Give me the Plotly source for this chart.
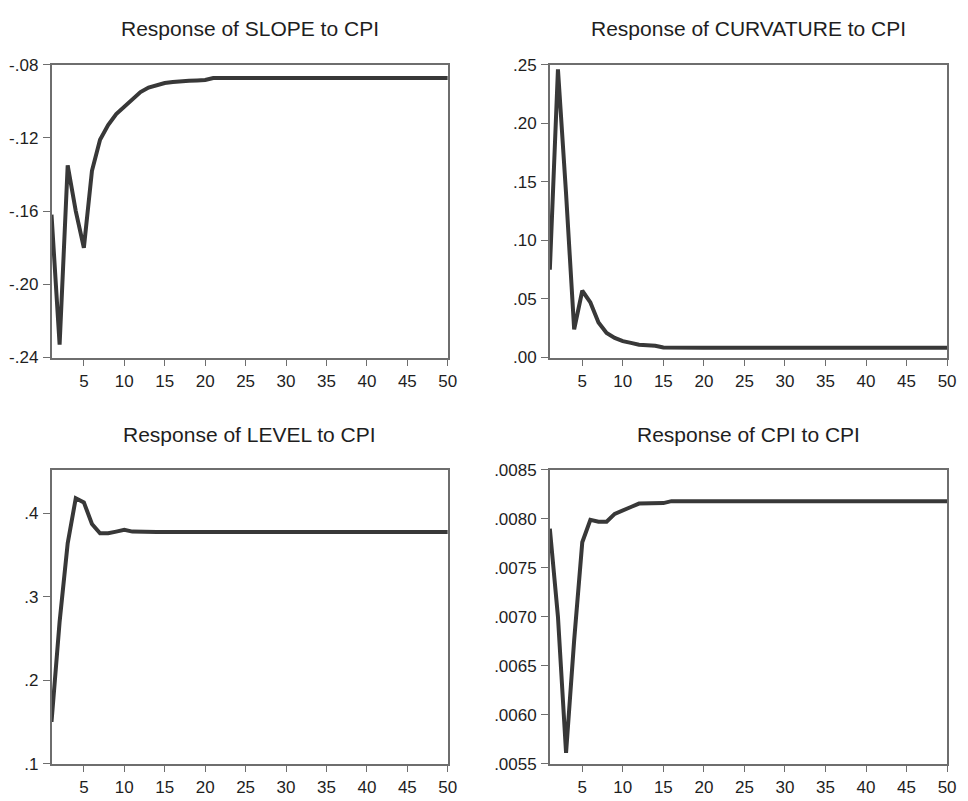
import plotly.graph_objects as go

periods = list(range(1, 51))

slope = [-0.162, -0.233, -0.135, -0.160, -0.180, -0.138, -0.121, -0.113, -0.107, -0.103,
         -0.0985, -0.095, -0.0925, -0.091, -0.0900, -0.0895, -0.0890, -0.0888, -0.0886, -0.0884] + [-0.0873] * 30
curvature = [0.075, 0.246, 0.140, 0.024, 0.057, 0.047, 0.030, 0.021, 0.0167, 0.014,
             0.0125, 0.011, 0.0105, 0.0100, 0.0085] + [0.0083] * 35
level = [0.150, 0.270, 0.364, 0.418, 0.413, 0.387, 0.376, 0.376, 0.378, 0.380,
         0.378] + [0.3775] * 39
cpi = [0.00790, 0.00700, 0.00561, 0.00676, 0.00776, 0.00799, 0.00797, 0.00797, 0.00805, 0.00809,
       0.00812, 0.008155, 0.008155, 0.008155, 0.008160] + [0.00818] * 35

titles = ["Response of SLOPE to CPI", "Response of CURVATURE to CPI",
          "Response of LEVEL to CPI", "Response of CPI to CPI"]

x_ticks = [5, 10, 15, 20, 25, 30, 35, 40, 45, 50]

slope_ticks = [-0.24, -0.20, -0.16, -0.12, -0.08]
slope_text = ["-.24", "-.20", "-.16", "-.12", "-.08"]
curv_ticks = [0.00, 0.05, 0.10, 0.15, 0.20, 0.25]
curv_text = [".00", ".05", ".10", ".15", ".20", ".25"]
level_ticks = [0.1, 0.2, 0.3, 0.4]
level_text = [".1", ".2", ".3", ".4"]
cpi_ticks = [0.0055, 0.0060, 0.0065, 0.0070, 0.0075, 0.0080, 0.0085]
cpi_text = [".0055", ".0060", ".0065", ".0070", ".0075", ".0080", ".0085"]

W, H = 968, 801
# pixel boxes (left, right, top, bottom)
boxes = [(52, 452, 57, 357), (555, 956, 57, 357), (52, 452, 472, 773), (555, 956, 472, 773)]
yranges = [[-0.24, -0.08], [0.0, 0.25], [0.1, 0.452], [0.0055, 0.0085]]
series = [slope, curvature, level, cpi]
yticks = [(slope_ticks, slope_text), (curv_ticks, curv_text), (level_ticks, level_text), (cpi_ticks, cpi_text)]
title_y = [20, 20, 436, 436]

fig = go.Figure()
line_color = "#383838"
frame_color = "#6e6e6e"
font_family = "Liberation Sans, Arial, sans-serif"

for i in range(4):
    l, r, t, b = boxes[i]
    xa = "xaxis" if i == 0 else f"xaxis{i+1}"
    ya = "yaxis" if i == 0 else f"yaxis{i+1}"
    xref = "x" if i == 0 else f"x{i+1}"
    yref = "y" if i == 0 else f"y{i+1}"
    fig.add_trace(go.Scatter(x=periods, y=series[i], mode="lines",
                             line=dict(color=line_color, width=4),
                             xaxis=xref, yaxis=yref, showlegend=False, hoverinfo="skip"))
    fig.layout[xa] = dict(domain=[l / W, r / W], range=[1, 50], anchor=yref,
                          tickvals=x_ticks, ticktext=[str(v) for v in x_ticks],
                          ticks="outside", ticklen=7, tickwidth=1.3, tickcolor=frame_color,
                          showline=True, linecolor=frame_color, linewidth=1.5, mirror=True,
                          showgrid=False, zeroline=False,
                          tickfont=dict(family=font_family, size=17, color="#1e1e1e"))
    fig.layout[ya] = dict(domain=[1 - b / H, 1 - t / H], range=yranges[i], anchor=xref,
                          tickvals=yticks[i][0], ticktext=yticks[i][1],
                          ticks="outside", ticklen=7, tickwidth=1.3, tickcolor=frame_color,
                          showline=True, linecolor=frame_color, linewidth=1.5, mirror=True,
                          showgrid=False, zeroline=False, ticklabelstandoff=1,
                          tickfont=dict(family=font_family, size=17, color="#1e1e1e"))
    fig.add_annotation(text=titles[i], xref="paper", yref="paper",
                       x=(l + r) / 2 / W, y=1 - title_y[i] / H,
                       xanchor="center", yanchor="middle", showarrow=False,
                       font=dict(family=font_family, size=21, color="#1e1e1e"))

fig.update_layout(width=W, height=H, margin=dict(l=0, r=0, t=0, b=0),
                  paper_bgcolor="white", plot_bgcolor="white")

fig.write_html("out.html", post_script="document.body.style.margin='0';")
